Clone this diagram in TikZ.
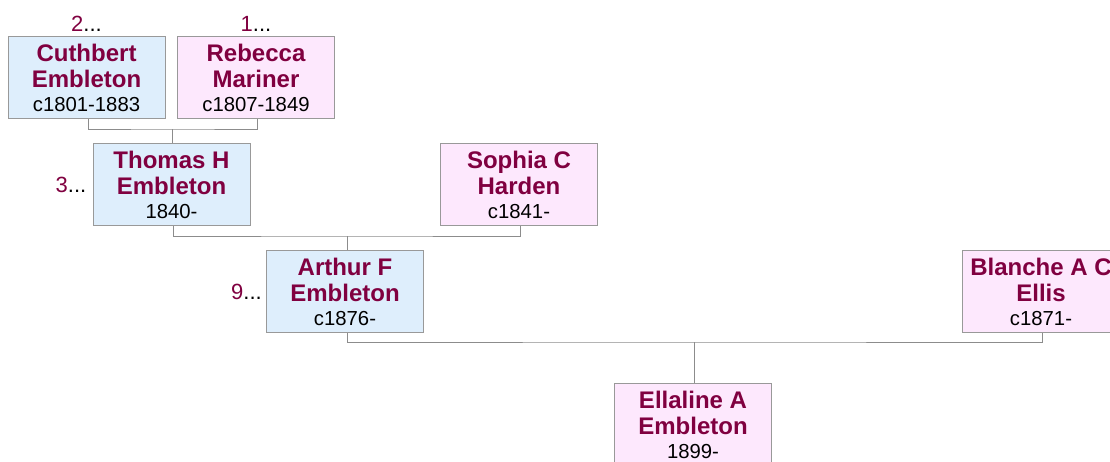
\documentclass[tikz,border=0pt]{standalone}
\usepackage{fontspec}
\setmainfont{Liberation Sans}
\definecolor{maroon}{HTML}{800040}
\definecolor{bluef}{HTML}{DEEEFC}
\definecolor{pinkf}{HTML}{FDE8FD}
\definecolor{edge}{HTML}{999999}
\definecolor{conn}{HTML}{8C8C8C}
\tikzset{
  pbox/.style={draw=edge, line width=1pt, anchor=north, minimum width=157pt, minimum height=82pt, inner sep=0pt},
  male/.style={pbox, fill=bluef},
  female/.style={pbox, fill=pinkf},
  nm/.style={anchor=base, inner sep=0pt, text=maroon, font=\fontsize{24}{26}\selectfont\bfseries},
  dt/.style={anchor=base, inner sep=0pt, text=black, font=\fontsize{20.3}{22}\selectfont},
  gen/.style={inner sep=0pt, font=\fontsize{22}{24}\selectfont},
  conline/.style={draw=conn, line width=1pt}
}
\newcommand\famperson[7]{%
  \node[#4] (#1) at (#2,#3) {};
  \node[nm] (#1-a) at ([yshift=-25.5pt]#1.north) {#5};
  \node[nm] (#1-b) at ([yshift=-51.5pt]#1.north) {#6};
  \node[dt] (#1-c) at ([yshift=-75pt]#1.north) {#7};
}
\begin{document}
\begin{tikzpicture}[x=1pt,y=-1pt]
\fill[white] (0,0) rectangle (1110,461);
\useasboundingbox (0,0) rectangle (1110,461);
\clip (0,0) rectangle (1110,461);
% connectors
\coordinate (j1) at (172.5,129);
\coordinate (j2) at (347,236);
\coordinate (j3) at (694,342);
\famperson{cuth}{86.5}{36}{male}{Cuthbert}{Embleton}{c1801-1883}
\famperson{rebe}{256}{36}{female}{Rebecca}{Mariner}{c1807-1849}
\famperson{thom}{171.5}{143}{male}{Thomas H}{Embleton}{1840-}
\famperson{soph}{519}{143}{female}{Sophia C}{Harden}{c1841-}
\famperson{arth}{345}{250}{male}{Arthur F}{Embleton}{c1876-}
\famperson{blan}{1041}{250}{female}{Blanche A C}{Ellis}{c1871-}
\famperson{ella}{693}{383}{female}{Ellaline A}{Embleton}{1899-}
\draw[conline] ([xshift=1.5pt]cuth.south) |- (j1) -| ([xshift=1pt]rebe.south);
\draw[conline] (j1) -- (j1 |- thom.north);
\draw[conline] ([xshift=1.5pt]thom.south) |- (j2) -| ([xshift=1pt]soph.south);
\draw[conline] (j2) -- (j2 |- arth.north);
\draw[conline] ([xshift=2pt]arth.south) |- (j3) -| ([xshift=1pt]blan.south);
\draw[conline] (j3) -- (j3 |- ella.north);
% generation markers
\node[gen, anchor=base] (g2) at ([yshift=5pt]cuth.north) {\textcolor{maroon}{2}...};
\node[gen, anchor=base] (g1) at ([yshift=5pt]rebe.north) {\textcolor{maroon}{1}...};
\node[gen, anchor=east] (g3) at ([xshift=-6pt]thom.west) {\textcolor{maroon}{3}...};
\node[gen, anchor=east] (g9) at ([xshift=-4pt]arth.west) {\textcolor{maroon}{9}...};
\end{tikzpicture}
\end{document}
